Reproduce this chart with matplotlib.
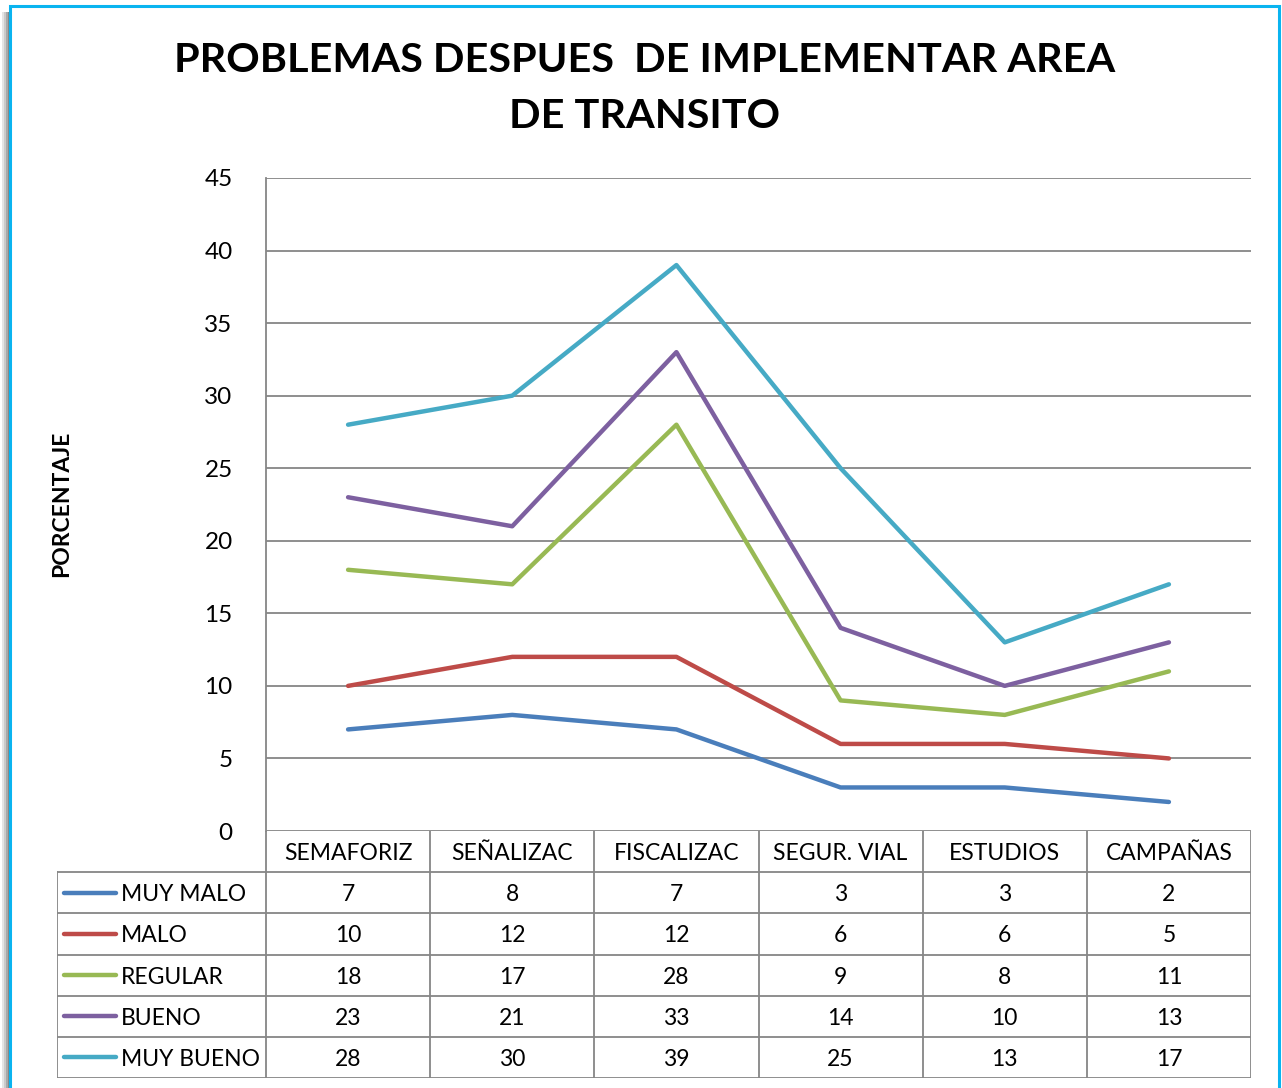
import matplotlib.pyplot as plt
from matplotlib.patches import Rectangle
from matplotlib.lines import Line2D

categories = ["SEMAFORIZ", "SEÑALIZAC", "FISCALIZAC", "SEGUR. VIAL", "ESTUDIOS", "CAMPAÑAS"]
series_names = ["MUY MALO", "MALO", "REGULAR", "BUENO", "MUY BUENO"]
muy_malo = [7, 8, 7, 3, 3, 2]
malo = [10, 12, 12, 6, 6, 5]
regular = [18, 17, 28, 9, 8, 11]
bueno = [23, 21, 33, 14, 10, 13]
muy_bueno = [28, 30, 39, 25, 13, 17]
series = [muy_malo, malo, regular, bueno, muy_bueno]
colors = ["#4A7EBB", "#BE4B48", "#98B954", "#7D60A0", "#46AAC5"]
yticks = [0, 5, 10, 15, 20, 25, 30, 35, 40, 45]

plt.rcParams["font.family"] = ["Lato", "DejaVu Sans"]
W, H = 1282, 1088
fig = plt.figure(figsize=(W / 100, H / 100), dpi=100)

def box(x0, y0, x1, y1):
    # pixel box (top-left origin) -> figure fraction rect
    return [x0 / W, 1 - y1 / H, (x1 - x0) / W, (y1 - y0) / H]

# frame with left shadow
bg = fig.add_axes([0, 0, 1, 1])
bg.set_xlim(0, W)
bg.set_ylim(H, 0)
bg.axis("off")
for i, a in enumerate([0.15, 0.3, 0.5, 0.7]):
    bg.add_patch(Rectangle((2 + i * 2, 12), 2, H, color="#555555", alpha=a, lw=0))
bg.add_patch(Rectangle((10, 6), 1269, H + 10, facecolor="white", edgecolor="#0AB4F0", lw=2.2))

fig.text(645 / W, 1 - 61 / H, "PROBLEMAS DESPUES  DE IMPLEMENTAR AREA", ha="center", va="center",
         fontsize=29.8, fontweight="bold")
fig.text(645 / W, 1 - 117 / H, "DE TRANSITO", ha="center", va="center",
         fontsize=29.8, fontweight="bold")
fig.text(62 / W, 1 - 504 / H, "PORCENTAJE", rotation=90, ha="center", va="center",
         fontsize=16.5, fontweight="bold")

ax = fig.add_axes(box(266, 178, 1251, 831))
x = list(range(len(categories)))
for vals, c in zip(series, colors):
    ax.plot(x, vals, color=c, lw=3.2, solid_capstyle="round", zorder=3)
ax.set_xlim(-0.5, len(categories) - 0.5)
ax.set_ylim(0, 45)
ax.set_yticks(yticks)
ax.set_xticks([])
ax.grid(axis="y", color="#868686", lw=1.3)
ax.set_axisbelow(True)
for s in ["top", "right", "bottom"]:
    ax.spines[s].set_visible(False)
ax.spines["left"].set_color("#868686")
ax.spines["left"].set_linewidth(1.3)
ax.tick_params(axis="y", length=0, pad=24, labelsize=17.5)
ax.patch.set_alpha(0)

# data table
tb = fig.add_axes(box(57, 831, 1251, 1078))
col0 = (266 - 57) / ((1251 - 266) / len(categories))
tb.set_xlim(-col0, len(categories))
tb.set_ylim(len(series) + 1, 0)
tb.axis("off")
gc, gw = "#868686", 1.3
nrow = len(series) + 1
for j in range(len(categories) + 1):
    tb.plot([j, j], [0, nrow], color=gc, lw=gw)
tb.plot([-col0, -col0], [1, nrow], color=gc, lw=gw)
for i in range(1, nrow + 1):
    tb.plot([-col0, len(categories)], [i, i], color=gc, lw=gw)
for j, cat in enumerate(categories):
    tb.text(j + 0.5, 0.55, cat, ha="center", va="center", fontsize=16.5)
for i, (name, vals, c) in enumerate(zip(series_names, series, colors)):
    y = i + 1.5
    tb.add_line(Line2D([-col0 + 0.04, -col0 + 0.36], [y, y], color=c, lw=3.2, solid_capstyle="round"))
    tb.text(-col0 + 0.39, y + 0.05, name, ha="left", va="center", fontsize=16.5)
    for j, v in enumerate(vals):
        tb.text(j + 0.5, y + 0.05, str(v), ha="center", va="center", fontsize=16.5)

fig.savefig("out.png", dpi=100)
